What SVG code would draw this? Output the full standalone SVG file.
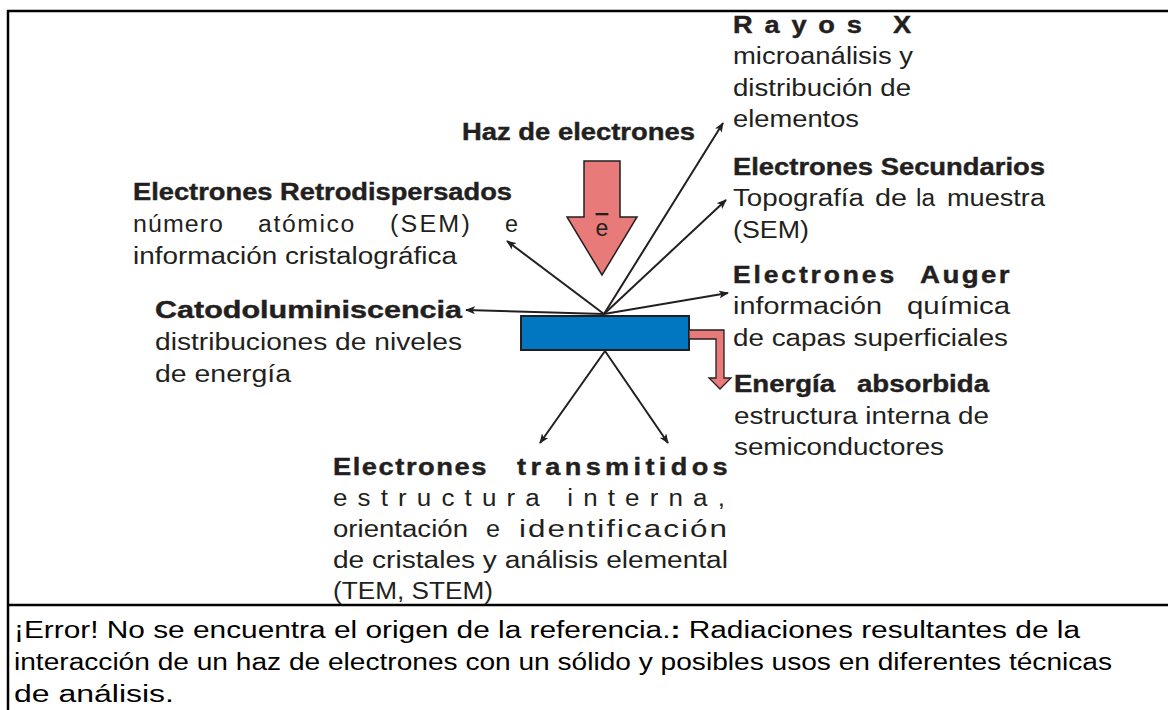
<svg xmlns="http://www.w3.org/2000/svg" width="1168" height="710" viewBox="0 0 1168 710">
<style>
.r{font-family:"Liberation Sans",Arial,sans-serif;font-size:23px;fill:#231F20}
.b{font-family:"Liberation Sans",Arial,sans-serif;font-size:23px;font-weight:bold;fill:#231F20;stroke:#231F20;stroke-width:0.4}
.c{font-family:"Liberation Sans",Arial,sans-serif;font-size:23px;fill:#000}
.ln{stroke:#231F20;stroke-width:2;fill:none}
.frame{stroke:#000;stroke-width:2.5;fill:none}
</style>
<defs>
<marker id="ah" viewBox="0 0 10 8" refX="9" refY="4" markerWidth="10" markerHeight="8" markerUnits="userSpaceOnUse" orient="auto">
<path d="M0,0 L10,4 L0,8 L2.5,4 z" fill="#231F20"/>
</marker>
</defs>
<rect width="1168" height="710" fill="#fff"/>
<g id="frame">
<line class="frame" x1="7" y1="11" x2="1168" y2="11"/>
<line class="frame" x1="8" y1="10" x2="8" y2="710"/>
<line class="frame" x1="7" y1="605" x2="1168" y2="605"/>
</g>
<g id="connectors">
<line class="ln" x1="604" y1="314" x2="723" y2="123" marker-end="url(#ah)"/>
<line class="ln" x1="604" y1="314" x2="726" y2="200" marker-end="url(#ah)"/>
<line class="ln" x1="604" y1="314" x2="728" y2="293" marker-end="url(#ah)"/>
<line class="ln" x1="604" y1="314" x2="507" y2="241" marker-end="url(#ah)"/>
<line class="ln" x1="604" y1="314" x2="466" y2="310" marker-end="url(#ah)"/>
<line class="ln" x1="605" y1="351" x2="540" y2="443" marker-end="url(#ah)"/>
<line class="ln" x1="605" y1="351" x2="668" y2="443" marker-end="url(#ah)"/>
</g>
<g id="beam">
<polygon points="584,161 620,161 620,217 637,217 602,275 567,217 584,217" fill="#E97A7A" stroke="#231F20" stroke-width="1.5"/>
<text class="r" x="602" y="236" text-anchor="middle" font-size="26" style="text-decoration:overline">e</text>
</g>
<g id="sample">
<rect x="521" y="316" width="168" height="34" fill="#0077C0" stroke="#231F20" stroke-width="2"/>
</g>
<g id="absorbed-arrow">
<polygon points="689,330 724,330 724,378 731,378 720,389 709,378 716,378 716,339 689,339" fill="#E97A7A" stroke="#231F20" stroke-width="1.3"/>
</g>
<g id="haz">
<text class="b" x="462" y="140" textLength="233" lengthAdjust="spacingAndGlyphs">Haz de electrones</text>
</g>
<g id="rayos-x">
<text class="b" x="733" y="33" textLength="190" lengthAdjust="spacingAndGlyphs" letter-spacing="10">Rayos X</text>
<text class="r" x="733" y="64" textLength="180" lengthAdjust="spacingAndGlyphs">microanálisis y</text>
<text class="r" x="733" y="96" textLength="178" lengthAdjust="spacingAndGlyphs">distribución de</text>
<text class="r" x="733" y="127" textLength="126" lengthAdjust="spacingAndGlyphs">elementos</text>
</g>
<g id="secundarios">
<text class="b" x="733" y="175" textLength="312" lengthAdjust="spacingAndGlyphs">Electrones Secundarios</text>
<text class="r" x="733" y="206" textLength="131" lengthAdjust="spacingAndGlyphs">Topografía</text>
<text class="r" x="875" y="206" textLength="32" lengthAdjust="spacingAndGlyphs">de</text>
<text class="r" x="916" y="206" textLength="19" lengthAdjust="spacingAndGlyphs">la</text>
<text class="r" x="947" y="206" textLength="98" lengthAdjust="spacingAndGlyphs">muestra</text>
<text class="r" x="733" y="238" textLength="76" lengthAdjust="spacingAndGlyphs">(SEM)</text>
</g>
<g id="auger">
<text class="b" x="733" y="283" textLength="164" lengthAdjust="spacingAndGlyphs" letter-spacing="2.5">Electrones</text>
<text class="b" x="920" y="283" textLength="92" lengthAdjust="spacingAndGlyphs" letter-spacing="2">Auger</text>
<text class="r" x="733" y="314" textLength="149" lengthAdjust="spacingAndGlyphs">información</text>
<text class="r" x="907" y="314" textLength="103" lengthAdjust="spacingAndGlyphs">química</text>
<text class="r" x="733" y="346" textLength="275" lengthAdjust="spacingAndGlyphs">de capas superficiales</text>
</g>
<g id="absorbida">
<text class="b" x="734" y="392" textLength="101" lengthAdjust="spacingAndGlyphs">Energía</text>
<text class="b" x="857" y="392" textLength="132" lengthAdjust="spacingAndGlyphs">absorbida</text>
<text class="r" x="734" y="424" textLength="255" lengthAdjust="spacingAndGlyphs">estructura interna de</text>
<text class="r" x="734" y="455" textLength="210" lengthAdjust="spacingAndGlyphs">semiconductores</text>
</g>
<g id="retrodispersados">
<text class="b" x="133" y="200" textLength="379" lengthAdjust="spacingAndGlyphs">Electrones Retrodispersados</text>
<text class="r" x="133" y="232" textLength="91" lengthAdjust="spacingAndGlyphs" letter-spacing="1">número</text>
<text class="r" x="258" y="232" textLength="98" lengthAdjust="spacingAndGlyphs" letter-spacing="1.5">atómico</text>
<text class="r" x="390" y="232" textLength="82" lengthAdjust="spacingAndGlyphs" letter-spacing="2">(SEM)</text>
<text class="r" x="505" y="232" textLength="13" lengthAdjust="spacingAndGlyphs">e</text>
<text class="r" x="133" y="264" textLength="324" lengthAdjust="spacingAndGlyphs">información cristalográfica</text>
</g>
<g id="catodoluminiscencia">
<text class="b" x="155" y="318" textLength="307" lengthAdjust="spacingAndGlyphs">Catodoluminiscencia</text>
<text class="r" x="155" y="350" textLength="307" lengthAdjust="spacingAndGlyphs">distribuciones de niveles</text>
<text class="r" x="155" y="382" textLength="136" lengthAdjust="spacingAndGlyphs">de energía</text>
</g>
<g id="transmitidos">
<text class="b" x="333" y="475" textLength="155" lengthAdjust="spacingAndGlyphs" letter-spacing="1.3">Electrones</text>
<text class="b" x="517" y="475" textLength="215" lengthAdjust="spacingAndGlyphs" letter-spacing="3.7">transmitidos</text>
<text class="r" x="333" y="506" textLength="402" lengthAdjust="spacingAndGlyphs" letter-spacing="9">estructura interna,</text>
<text class="r" x="333" y="537" textLength="135" lengthAdjust="spacingAndGlyphs">orientación</text>
<text class="r" x="486" y="537" textLength="14" lengthAdjust="spacingAndGlyphs">e</text>
<text class="r" x="519" y="537" textLength="210" lengthAdjust="spacingAndGlyphs" letter-spacing="1.5">identificación</text>
<text class="r" x="333" y="568" textLength="395" lengthAdjust="spacingAndGlyphs">de cristales y análisis elemental</text>
<text class="r" x="333" y="599" textLength="160" lengthAdjust="spacingAndGlyphs">(TEM, STEM)</text>
</g>
<g id="caption">
<text class="c" x="14" y="638" textLength="1066" lengthAdjust="spacingAndGlyphs">¡Error! No se encuentra el origen de la referencia.<tspan font-weight="bold">:</tspan> Radiaciones resultantes de la</text>
<text class="c" x="14" y="670" textLength="1098" lengthAdjust="spacingAndGlyphs">interacción de un haz de electrones con un sólido y posibles usos en diferentes técnicas</text>
<text class="c" x="14" y="702" textLength="160" lengthAdjust="spacingAndGlyphs">de análisis.</text>
</g>
</svg>
